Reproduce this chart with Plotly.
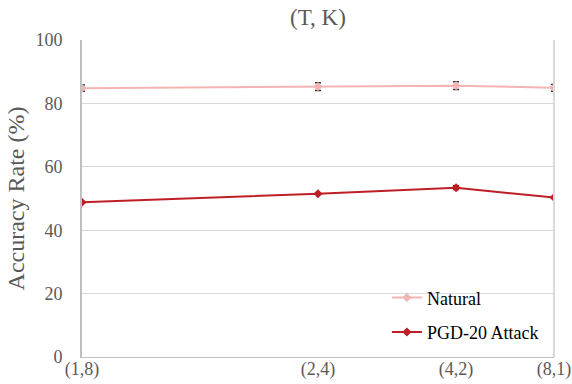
import plotly.graph_objects as go

labels = ["(1,8)", "(2,4)", "(4,2)", "(8,1)"]
x_index = [1, 2, 3, 4]
natural = [84.8, 85.3, 85.6, 84.9]
natural_err = [1.0, 1.2, 1.2, 1.1]
pgd = [48.8, 51.5, 53.4, 50.3]
pgd_err = [0.0, 0.0, 0.6, 0.0]

FONT = "Liberation Serif"

fig = go.Figure()
fig.add_trace(go.Scatter(
    x=x_index, y=natural, name="Natural", mode="lines+markers",
    line=dict(color="#F4B4B4", width=2),
    marker=dict(symbol="diamond", size=7, color="#F4B4B4"),
    error_y=dict(type="data", array=natural_err, visible=True,
                 color="#333333", thickness=1.5, width=3),
    legendgroup="a",
))
fig.add_trace(go.Scatter(
    x=x_index, y=pgd, name="PGD-20 Attack", mode="lines+markers",
    line=dict(color="#BE1E25", width=2),
    marker=dict(symbol="diamond", size=7, color="#BE1E25"),
    error_y=dict(type="data", array=pgd_err, visible=True,
                 color="#7a1010", thickness=1.5, width=3),
    legendgroup="b",
))

fig.update_layout(
    width=572, height=384,
    margin=dict(l=82, r=18, t=40, b=27, autoexpand=False),
    paper_bgcolor="white", plot_bgcolor="white",
    font=dict(family=FONT, size=18, color="#595959"),
    title=dict(text="(T, K)", x=0.5, xref="paper", xanchor="center",
               y=0.957, yanchor="middle",
               font=dict(family=FONT, size=23, color="#595959")),
    showlegend=True,
    legend=dict(x=0.646, y=0.245, xanchor="left", yanchor="top",
                bgcolor="rgba(0,0,0,0)", traceorder="grouped",
                tracegroupgap=8,
                font=dict(family=FONT, size=18, color="#000000")),
    xaxis=dict(type="log", range=[0, 0.60206], tickvals=x_index,
               ticktext=labels, showgrid=False, zeroline=False,
               showline=True, linecolor="#BFBFBF", linewidth=1,
               ticks="", automargin=False, ticklabelstandoff=-5,
               tickfont=dict(family=FONT, size=18, color="#595959")),
    yaxis=dict(range=[0, 100], dtick=20, showgrid=True, gridcolor="#D9D9D9",
               gridwidth=1, zeroline=False, showline=True, automargin=False,
               linecolor="#BFBFBF", linewidth=2, ticks="",
               ticklabelstandoff=14,
               tickfont=dict(family=FONT, size=18, color="#595959"),
               title=dict(text="Accuracy Rate (%)", standoff=4,
                          font=dict(family=FONT, size=24, color="#595959"))),
)
fig.add_shape(type="line", xref="paper", yref="paper", x0=1, x1=1, y0=0, y1=1,
              line=dict(color="#D9D9D9", width=2))

fig.write_html("out.html")
